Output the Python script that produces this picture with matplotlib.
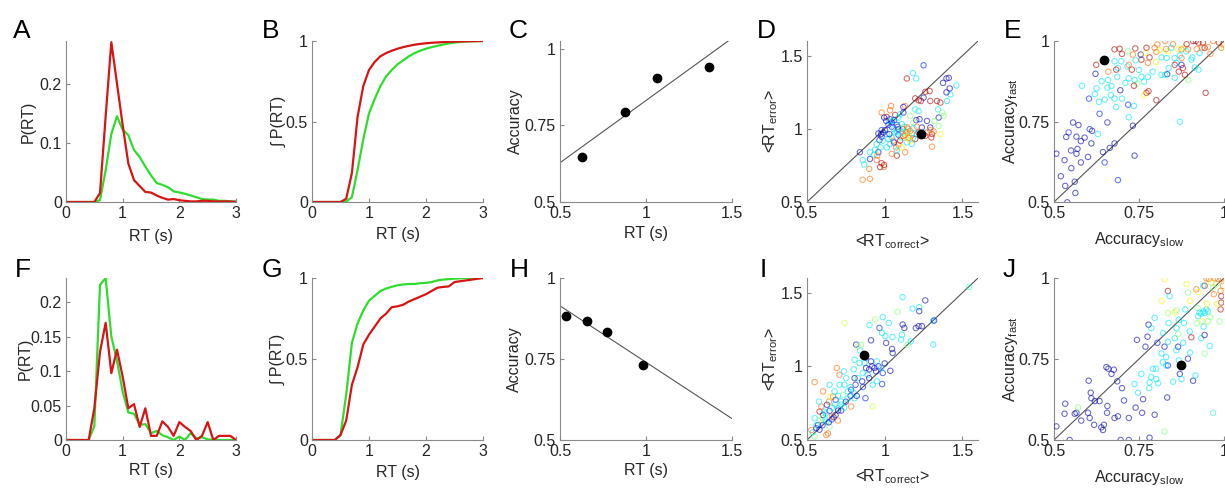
import numpy as np
import matplotlib
matplotlib.use('Agg')
import matplotlib.pyplot as plt

plt.rcParams['font.family'] = ['Liberation Sans', 'DejaVu Sans']
plt.rcParams['mathtext.fontset'] = 'custom'
plt.rcParams['mathtext.rm'] = 'Liberation Sans'

#%% data
rt_bins = [0.0, 0.1, 0.2, 0.3, 0.4, 0.5, 0.6, 0.7, 0.8, 0.9, 1.0, 1.1, 1.2, 1.3, 1.4, 1.5,
           1.6, 1.7, 1.8, 1.9, 2.0, 2.1, 2.2, 2.3, 2.4, 2.5, 2.6, 2.7, 2.8, 2.9, 3.0]

# A: RT distributions (top row)
pdf_top_red = [0, 0, 0, 0, 0, 0, 0.015, 0.145, 0.27, 0.20, 0.13, 0.065, 0.037, 0.027, 0.017, 0.016,
               0.011, 0.007, 0.004, 0.005, 0.003, 0.002, 0.001, 0.001, 0.002, 0.002, 0.001, 0.001, 0.001, 0.001, 0.0]
pdf_top_green = [0, 0, 0, 0, 0, 0, 0.003, 0.054, 0.115, 0.145, 0.122, 0.113, 0.088, 0.076, 0.06, 0.045,
                 0.032, 0.029, 0.025, 0.018, 0.016, 0.014, 0.011, 0.008, 0.005, 0.004, 0.004, 0.002, 0.002, 0.001, 0.001]
# B: cumulative
cdf_top_red = [0, 0, 0, 0, 0, 0, 0.02, 0.18, 0.53, 0.72, 0.82, 0.87, 0.905, 0.925, 0.94, 0.952,
               0.962, 0.97, 0.977, 0.982, 0.986, 0.989, 0.991, 0.993, 0.995, 0.996, 0.997, 0.998, 0.999, 0.9995, 1.0]
cdf_top_green = [0, 0, 0, 0, 0, 0, 0.003, 0.03, 0.2, 0.39, 0.55, 0.64, 0.72, 0.78, 0.82, 0.855,
                 0.88, 0.905, 0.925, 0.94, 0.952, 0.962, 0.97, 0.978, 0.985, 0.99, 0.994, 0.997, 0.998, 0.999, 1.0]
# F: RT distributions (bottom row)
pdf_bot_green = [0, 0, 0, 0, 0, 0.02, 0.225, 0.235, 0.15, 0.115, 0.07, 0.04, 0.038, 0.022, 0.023, 0.01,
                 0.013, 0.007, 0.004, 0.0, 0.005, 0.0, 0.01, 0.002, 0.004, 0.001, 0, 0, 0, 0, 0]
pdf_bot_red = [0, 0, 0, 0, 0, 0.046, 0.128, 0.17, 0.097, 0.131, 0.092, 0.046, 0.052, 0.019, 0.046, 0.006,
               0.006, 0.027, 0.019, 0.006, 0.026, 0.019, 0.013, 0.0, 0.006, 0.026, 0.0, 0.006, 0.006, 0.006, 0.0]
# G: cumulative
cdf_bot_green = [0, 0, 0, 0, 0, 0.03, 0.28, 0.6, 0.72, 0.8, 0.86, 0.89, 0.92, 0.935, 0.946, 0.955,
                 0.96, 0.963, 0.963, 0.968, 0.97, 0.975, 0.985, 0.99, 0.993, 0.996, 0.998, 1.0, 1.0, 1.0, 1.0]
cdf_bot_red = [0, 0, 0, 0, 0, 0.03, 0.12, 0.34, 0.45, 0.59, 0.65, 0.70, 0.75, 0.78, 0.82, 0.825,
               0.835, 0.855, 0.87, 0.885, 0.9, 0.92, 0.94, 0.945, 0.948, 0.975, 0.98, 0.985, 0.99, 0.995, 1.0]

# C / H: accuracy vs RT
c_rt = [0.63, 0.88, 1.064, 1.364]
c_acc = [0.647, 0.794, 0.903, 0.939]
c_fit_x = [0.5, 1.5]
c_fit_y = [0.628, 1.034]
h_rt = [0.533, 0.656, 0.774, 0.984]
h_acc = [0.883, 0.868, 0.834, 0.731]
h_fit_x = [0.5, 1.5]
h_fit_y = [0.914, 0.566]

# D: <RT_error> vs <RT_correct>, top row
d_x = [0.84, 0.858, 0.868, 0.905, 0.90, 0.858, 0.905, 0.948, 0.959, 0.974, 0.931, 0.98, 0.996, 0.966, 0.976,
       0.98, 1.009, 1.034, 1.045, 1.013, 1.024, 1.056, 1.073, 1.088, 1.078, 1.045, 1.131, 1.116, 1.138, 1.149,
       1.164, 1.175, 1.157, 1.181, 1.142, 1.175, 1.196, 1.207, 1.239, 1.272, 1.293, 1.304, 1.30, 1.304, 1.315,
       1.343, 1.369, 1.336, 1.358, 1.347, 1.379, 1.401, 1.422, 1.461, 1.418, 1.397, 1.375, 1.397, 1.412, 1.25,
       1.142, 1.203, 1.181, 1.196, 1.218, 1.233, 1.25, 1.261, 1.289, 1.293, 1.131, 1.12, 1.041, 1.034, 1.067,
       1.088, 1.099, 1.164, 1.196, 1.218, 1.224, 1.203, 1.185, 1.045, 1.078, 1.084, 1.11, 1.06, 1.078, 1.088,
       1.103, 1.131, 1.138, 1.045, 1.06, 1.03, 1.002, 0.991, 0.987, 0.948, 0.938, 0.905, 0.952, 0.97, 0.996,
       0.98, 1.013, 1.12, 1.207, 1.239, 1.272, 1.293, 1.319, 1.358, 1.347, 1.145, 1.03, 1.06, 1.10, 1.15,
       0.996, 1.024, 1.056, 1.069, 1.088, 1.11, 1.12, 1.153, 1.164, 1.125, 1.099, 1.185, 1.218, 1.261, 1.013,
       1.034, 1.078, 1.11, 0.98, 0.959]
d_y = [0.84, 0.787, 0.756, 0.794, 0.726, 0.652, 0.658, 0.787, 0.84, 0.873, 0.824, 0.765, 0.74, 0.923, 0.964,
       0.991, 1.054, 1.066, 1.014, 0.964, 0.93, 0.919, 0.873, 0.891, 0.817, 0.828, 0.84, 0.998, 0.98, 0.975,
       0.986, 0.968, 0.952, 0.937, 0.907, 0.896, 0.93, 0.964, 1.009, 1.054, 1.009, 0.964, 0.941, 0.878, 0.982,
       1.133, 1.111, 1.19, 1.179, 1.077, 1.088, 1.19, 1.235, 1.296, 1.276, 1.249, 1.314, 1.344, 1.348, 1.434,
       1.344, 1.344, 1.382, 1.208, 1.195, 1.19, 1.213, 1.253, 1.258, 1.19, 1.156, 1.111, 1.156, 1.127, 1.095,
       1.077, 1.10, 1.088, 1.133, 1.122, 1.066, 1.059, 1.043, 1.043, 1.027, 1.014, 1.032, 0.998, 0.982, 0.959,
       0.941, 0.957, 0.941, 0.941, 0.907, 0.964, 0.991, 0.975, 0.919, 0.896, 0.857, 0.84, 0.817, 0.738, 0.753,
       1.111, 1.081, 1.149, 1.014, 0.964, 0.975, 0.991, 1.054, 0.964, 1.02, 1.011, 1.05, 1.06, 1.0, 1.0,
       1.077, 1.027, 1.054, 0.975, 0.998, 0.975, 0.952, 0.937, 0.919, 1.014, 0.919, 1.005, 0.975, 0.952, 0.873,
       0.896, 0.851, 0.873, 0.946, 0.968]
d_c = [0.05, 0.35, 0.35, 0.05, 0.8, 0.8, 0.8, 0.8, 0.05, 0.35, 0.35, 0.95, 0.8, 0.05, 0.05,
       0.15, 0.05, 0.15, 0.15, 0.35, 0.35, 0.8, 0.8, 0.8, 0.95, 0.8, 0.8, 0.95, 0.35, 0.65,
       0.8, 0.8, 0.5, 0.35, 0.35, 0.35, 0.95, 0.35, 0.05, 0.05, 0.05, 0.95, 0.95, 0.8, 0.8,
       0.35, 0.5, 0.95, 0.95, 0.05, 0.5, 0.35, 0.35, 0.35, 0.05, 0.05, 0.05, 0.05, 0.05, 0.15,
       0.95, 0.35, 0.35, 0.95, 0.95, 0.95, 0.05, 0.95, 0.95, 0.95, 0.8, 0.05, 0.8, 0.8, 0.95,
       0.35, 0.35, 0.5, 0.35, 0.35, 0.05, 0.05, 0.5, 0.05, 0.15, 0.05, 0.35, 0.35, 0.35, 0.15,
       0.35, 0.8, 0.65, 0.35, 0.05, 0.05, 0.05, 0.05, 0.35, 0.35, 0.35, 0.35, 0.8, 0.95, 0.95,
       0.8, 0.95, 0.05, 0.8, 0.8, 0.8, 0.8, 0.5, 0.65, 0.5, 0.8, 0.35, 0.15, 0.65, 0.8,
       0.05, 0.15, 0.35, 0.35, 0.15, 0.35, 0.8, 0.8, 0.65, 0.35, 0.95, 0.35, 0.95, 0.95, 0.35,
       0.35, 0.35, 0.65, 0.15, 0.05]
d_mark = [1.233, 0.968]

# E: accuracy fast vs slow, top row
e_x = [0.507, 0.531, 0.533, 0.539, 0.561, 0.563, 0.551, 0.566, 0.569, 0.579, 0.543, 0.556, 0.572, 0.536, 0.566,
       0.579, 0.605, 0.612, 0.61, 0.629, 0.582, 0.603, 0.622, 0.625, 0.632, 0.634, 0.649, 0.657, 0.659, 0.669,
       0.667, 0.678, 0.683, 0.695, 0.70, 0.718, 0.72, 0.735, 0.657, 0.644, 0.649, 0.664, 0.678, 0.688, 0.732,
       0.737, 0.678, 0.698, 0.688, 0.686, 0.716, 0.72, 0.737, 0.745, 0.757, 0.765, 0.776, 0.772, 0.778, 0.765,
       0.735, 0.729, 0.72, 0.683, 0.678, 0.693, 0.718, 0.739, 0.732, 0.757, 0.755, 0.769, 0.772, 0.796, 0.804,
       0.801, 0.781, 0.776, 0.811, 0.816, 0.827, 0.835, 0.831, 0.845, 0.855, 0.865, 0.875, 0.882, 0.889, 0.894,
       0.904, 0.909, 0.917, 0.925, 0.938, 0.943, 0.953, 0.968, 0.992, 0.997, 0.935, 0.928, 0.875, 0.86, 0.855,
       0.833, 0.827, 0.837, 0.816, 0.855, 0.867, 0.879, 0.885, 0.895, 0.914, 0.925, 0.907, 0.875, 0.946, 0.801,
       0.87, 0.624, 0.62, 0.64, 0.66, 0.70, 0.71, 0.75, 0.79, 0.80, 0.83, 0.85, 0.87, 0.89, 0.92,
       0.96, 0.985, 0.60, 0.59, 0.55, 0.52, 0.74]
e_y = [0.65, 0.63, 0.55, 0.499, 0.563, 0.528, 0.605, 0.65, 0.665, 0.623, 0.716, 0.747, 0.739, 0.702, 0.703,
       0.689, 0.726, 0.721, 0.682, 0.711, 0.861, 0.821, 0.898, 0.853, 0.811, 0.774, 0.818, 0.855, 0.879, 0.86,
       0.832, 0.821, 0.795, 0.847, 0.821, 0.802, 0.763, 0.798, 0.747, 0.655, 0.623, 0.668, 0.682, 0.568, 0.737,
       0.644, 0.937, 0.937, 0.916, 0.889, 0.921, 0.884, 0.879, 0.868, 0.889, 0.874, 0.889, 0.839, 0.844, 0.832,
       0.861, 0.911, 0.926, 0.911, 0.974, 0.976, 0.968, 0.977, 0.958, 0.942, 0.958, 0.963, 0.979, 0.979, 0.989,
       0.966, 0.949, 0.932, 0.971, 0.949, 1.0, 0.968, 0.947, 0.979, 0.947, 0.974, 0.974, 0.979, 0.968, 0.974,
       0.942, 1.0, 1.0, 0.995, 0.995, 0.979, 0.981, 1.0, 0.979, 0.989, 0.979, 0.963, 0.947, 0.932, 0.926,
       0.897, 0.895, 0.916, 0.895, 0.886, 0.905, 0.916, 0.895, 0.879, 0.918, 0.911, 0.949, 0.926, 0.839, 0.816,
       0.749, 0.926, 0.835, 0.875, 0.905, 0.96, 0.87, 0.91, 0.905, 0.935, 0.975, 0.99, 0.955, 0.99, 0.975,
       0.96, 0.995, 0.64, 0.70, 0.66, 0.58, 0.94]
e_c = [0.05, 0.05, 0.05, 0.05, 0.05, 0.05, 0.05, 0.05, 0.05, 0.05, 0.15, 0.05, 0.05, 0.05, 0.05,
       0.05, 0.15, 0.05, 0.05, 0.35, 0.35, 0.15, 0.05, 0.35, 0.35, 0.15, 0.35, 0.35, 0.35, 0.35,
       0.35, 0.35, 0.35, 0.05, 0.35, 0.15, 0.35, 0.35, 0.05, 0.05, 0.15, 0.05, 0.05, 0.15, 0.05,
       0.05, 0.35, 0.35, 0.35, 0.35, 0.35, 0.35, 0.35, 0.5, 0.35, 0.35, 0.35, 0.95, 0.95, 0.65,
       0.95, 0.95, 0.8, 0.95, 0.95, 0.95, 0.5, 0.95, 0.8, 0.95, 0.05, 0.65, 0.95, 0.8, 0.8,
       0.8, 0.95, 0.8, 0.65, 0.35, 0.8, 0.65, 0.35, 0.35, 0.35, 0.65, 0.8, 0.65, 0.35, 0.8,
       0.35, 0.95, 0.95, 0.95, 0.95, 0.95, 0.8, 0.8, 0.8, 0.8, 0.8, 0.35, 0.8, 0.35, 0.95,
       0.05, 0.35, 0.35, 0.35, 0.35, 0.95, 0.95, 0.95, 0.5, 0.35, 0.35, 0.35, 0.05, 0.95, 0.95,
       0.35, 0.95, 0.35, 0.35, 0.8, 0.95, 0.35, 0.35, 0.35, 0.65, 0.8, 0.8, 0.35, 0.95, 0.8,
       0.8, 0.95, 0.05, 0.05, 0.05, 0.05, 0.35]
e_mark = [0.647, 0.94]

# I: <RT_error> vs <RT_correct>, bottom row
i_x = [0.538, 0.549, 0.528, 0.549, 0.571, 0.585, 0.603, 0.581, 0.592, 0.577, 0.549, 0.635, 0.624, 0.613, 0.628,
       0.645, 0.641, 0.667, 0.65, 0.645, 0.684, 0.684, 0.699, 0.671, 0.699, 0.72, 0.692, 0.709, 0.737, 0.752,
       0.741, 0.763, 0.731, 0.784, 0.784, 0.806, 0.812, 0.827, 0.838, 0.806, 0.741, 0.816, 0.827, 0.848, 0.842,
       0.87, 0.88, 0.859, 0.855, 0.876, 0.891, 0.912, 0.919, 0.934, 0.944, 0.949, 0.923, 0.912, 0.902, 0.938,
       0.966, 0.987, 0.983, 1.004, 1.026, 1.009, 1.047, 1.051, 1.036, 0.983, 0.987, 0.977, 1.083, 1.115, 1.115,
       1.126, 1.111, 1.105, 1.179, 1.222, 1.222, 1.261, 1.218, 1.239, 1.147, 1.168, 1.312, 1.318, 1.312, 1.543,
       0.806, 0.624, 0.645, 0.923, 0.709, 0.677, 0.603, 0.56, 0.60, 0.66, 0.70, 0.75, 0.78, 0.90, 0.95,
       0.62, 0.66, 0.72, 0.76, 0.80, 0.56, 0.58, 0.60, 0.62, 0.64, 0.66, 0.68, 0.70, 0.72, 0.74,
       0.78, 0.82, 0.86, 0.90, 0.96, 1.0, 1.05, 1.2, 0.80, 0.88]
i_y = [0.552, 0.523, 0.568, 0.648, 0.602, 0.636, 0.67, 0.693, 0.727, 0.761, 0.893, 0.545, 0.625, 0.693, 0.739,
       0.698, 0.761, 0.795, 0.795, 0.875, 0.773, 0.67, 0.632, 0.655, 0.716, 0.761, 0.989, 0.943, 0.966, 0.92,
       0.875, 0.83, 0.807, 0.841, 0.727, 0.784, 0.875, 0.92, 1.023, 1.045, 1.295, 1.148, 1.136, 1.148, 1.107,
       1.023, 0.989, 0.955, 0.898, 0.784, 0.943, 1.034, 1.0, 0.989, 0.966, 1.034, 0.875, 1.177, 1.28, 1.318,
       1.261, 1.334, 1.227, 1.205, 1.295, 1.159, 1.118, 1.091, 0.97, 0.88, 0.955, 0.989, 1.37, 1.47, 1.284,
       1.261, 1.216, 1.182, 1.393, 1.402, 1.375, 1.448, 1.273, 1.273, 1.148, 1.17, 1.311, 1.311, 1.148, 1.539,
       0.92, 0.534, 0.591, 0.727, 0.875, 0.83, 0.83, 0.58, 0.60, 0.64, 0.70, 0.76, 0.80, 0.92, 0.90,
       0.64, 0.72, 0.74, 0.78, 0.82, 0.60, 0.57, 0.65, 0.68, 0.62, 0.66, 0.74, 0.80, 0.70, 0.72,
       0.86, 0.80, 0.86, 0.98, 1.00, 1.02, 1.20, 1.26, 0.98, 1.06]
i_c = [0.35, 0.5, 0.8, 0.35, 0.05, 0.5, 0.05, 0.95, 0.8, 0.35, 0.8, 0.8, 0.35, 0.35, 0.05,
       0.05, 0.8, 0.8, 0.65, 0.35, 0.15, 0.05, 0.8, 0.05, 0.35, 0.35, 0.8, 0.8, 0.35, 0.35,
       0.35, 0.35, 0.5, 0.15, 0.8, 0.35, 0.05, 0.35, 0.35, 0.35, 0.6, 0.05, 0.55, 0.5, 0.35,
       0.35, 0.05, 0.35, 0.05, 0.15, 0.35, 0.05, 0.05, 0.05, 0.05, 0.35, 0.35, 0.05, 0.35, 0.55,
       0.15, 0.35, 0.35, 0.35, 0.35, 0.05, 0.05, 0.05, 0.05, 0.15, 0.15, 0.35, 0.5, 0.35, 0.05,
       0.05, 0.35, 0.35, 0.35, 0.35, 0.05, 0.05, 0.05, 0.05, 0.5, 0.35, 0.35, 0.05, 0.35, 0.4,
       0.05, 0.8, 0.5, 0.6, 0.35, 0.35, 0.8, 0.15, 0.15, 0.15, 0.05, 0.05, 0.15, 0.05, 0.35,
       0.35, 0.35, 0.35, 0.35, 0.35, 0.35, 0.05, 0.5, 0.35, 0.05, 0.8, 0.35, 0.35, 0.05, 0.35,
       0.35, 0.05, 0.15, 0.05, 0.15, 0.05, 0.35, 0.05, 0.35, 0.05]
i_mark = [0.865, 1.08]

# J: accuracy fast vs slow, bottom row
j_x = [0.507, 0.531, 0.533, 0.546, 0.561, 0.566, 0.571, 0.60, 0.605, 0.602, 0.608, 0.61, 0.618, 0.634, 0.639,
       0.647, 0.644, 0.656, 0.654, 0.657, 0.669, 0.676, 0.678, 0.688, 0.686, 0.696, 0.706, 0.72, 0.72, 0.737,
       0.744, 0.747, 0.757, 0.762, 0.759, 0.769, 0.775, 0.778, 0.781, 0.781, 0.786, 0.791, 0.796, 0.801, 0.806,
       0.804, 0.796, 0.816, 0.821, 0.825, 0.825, 0.833, 0.83, 0.835, 0.83, 0.835, 0.837, 0.835, 0.835, 0.825,
       0.84, 0.816, 0.855, 0.86, 0.855, 0.865, 0.867, 0.865, 0.86, 0.867, 0.87, 0.875, 0.879, 0.882, 0.886,
       0.89, 0.894, 0.894, 0.899, 0.904, 0.909, 0.916, 0.919, 0.924, 0.922, 0.924, 0.928, 0.933, 0.939, 0.943,
       0.948, 0.953, 0.936, 0.933, 0.943, 0.948, 0.955, 0.943, 0.939, 0.963, 0.973, 0.977, 0.968, 0.982, 0.992,
       0.992, 0.992, 0.99, 0.997, 0.953, 0.958, 0.943, 0.968, 0.987, 0.786, 0.86, 0.90, 0.92, 0.95, 0.97,
       0.98, 0.99, 0.96, 0.94, 0.88, 0.82, 0.78, 0.74, 0.70, 0.62, 0.58, 0.66, 0.90, 0.85, 0.80]
j_y = [0.542, 0.581, 0.612, 0.5, 0.581, 0.584, 0.6, 0.584, 0.568, 0.683, 0.646, 0.629, 0.547, 0.62, 0.539,
       0.547, 0.531, 0.584, 0.725, 0.605, 0.704, 0.717, 0.568, 0.573, 0.681, 0.5, 0.622, 0.568, 0.5, 0.673,
       0.809, 0.646, 0.704, 0.626, 0.584, 0.788, 0.819, 0.856, 0.507, 0.678, 0.694, 0.72, 0.578, 0.688, 0.675,
       0.8, 0.877, 0.767, 0.83, 0.788, 0.526, 0.631, 0.73, 0.73, 0.756, 0.803, 0.861, 0.892, 0.96, 0.997,
       0.944, 0.929, 0.894, 0.845, 0.814, 0.827, 0.871, 0.788, 0.777, 0.746, 0.704, 0.688, 0.73, 0.861, 0.903,
       0.981, 0.955, 0.751, 0.835, 0.817, 0.683, 0.699, 0.965, 0.882, 0.908, 0.957, 0.893, 0.89, 0.897, 0.892,
       0.903, 0.897, 0.866, 0.814, 0.824, 0.999, 0.997, 0.976, 0.976, 0.986, 0.999, 0.981, 0.971, 0.997, 0.997,
       0.944, 0.924, 0.903, 0.976, 0.866, 0.79, 0.767, 0.584, 0.866, 0.845, 0.90, 0.93, 0.86, 0.92, 0.95,
       0.92, 0.96, 0.88, 0.85, 0.80, 0.74, 0.66, 0.60, 0.66, 0.62, 0.56, 0.72, 0.77, 0.68, 0.72]
j_c = [0.05, 0.05, 0.05, 0.05, 0.05, 0.05, 0.5, 0.05, 0.05, 0.05, 0.05, 0.05, 0.05, 0.05, 0.05,
       0.05, 0.05, 0.05, 0.05, 0.05, 0.05, 0.05, 0.05, 0.05, 0.05, 0.05, 0.05, 0.05, 0.05, 0.35,
       0.05, 0.35, 0.35, 0.05, 0.05, 0.05, 0.05, 0.05, 0.05, 0.35, 0.35, 0.35, 0.05, 0.35, 0.35,
       0.15, 0.35, 0.35, 0.35, 0.05, 0.5, 0.05, 0.35, 0.15, 0.35, 0.35, 0.35, 0.55, 0.95, 0.65,
       0.35, 0.65, 0.65, 0.35, 0.35, 0.5, 0.35, 0.05, 0.35, 0.35, 0.05, 0.35, 0.8, 0.35, 0.35,
       0.65, 0.5, 0.05, 0.35, 0.95, 0.05, 0.35, 0.8, 0.35, 0.5, 0.65, 0.35, 0.35, 0.35, 0.35,
       0.35, 0.35, 0.65, 0.35, 0.05, 0.8, 0.8, 0.95, 0.35, 0.65, 0.8, 0.55, 0.5, 0.8, 0.8,
       0.95, 0.95, 0.95, 0.8, 0.5, 0.35, 0.5, 0.4, 0.5, 0.35, 0.5, 0.65, 0.5, 0.65, 0.8,
       0.65, 0.8, 0.5, 0.35, 0.35, 0.35, 0.35, 0.05, 0.05, 0.05, 0.05, 0.05, 0.35, 0.35, 0.35]
j_mark = [0.873, 0.73]

diag_rt = [0.5, 1.6]
diag_acc = [0.5, 1.0]

#%% figure
W, H = 1225, 491
fig = plt.figure(figsize=(W / 100, H / 100), dpi=100)

col_left = [66, 312, 560, 807, 1054]
col_width = [170, 171, 172, 171, 170]
row_top = [41, 278]
row_bottom = [202, 440]

GREEN = '#2fdc2f'
RED = '#d61515'
AXC = '#8a8a8a'
TXT = '#262626'
FS = 11.5


def make_ax(row, col):
    l = col_left[col] / W
    b = 1 - row_bottom[row] / H
    w = col_width[col] / W
    h = (row_bottom[row] - row_top[row]) / H
    ax = fig.add_axes([l, b, w, h])
    ax.spines['top'].set_visible(False)
    ax.spines['right'].set_visible(False)
    for s in ['left', 'bottom']:
        ax.spines[s].set_color(AXC)
        ax.spines[s].set_linewidth(0.8)
    ax.tick_params(direction='in', length=3, width=0.8, color=AXC,
                   labelcolor=TXT, labelsize=FS, pad=3)
    return ax


def labels(ax, xl, yl, xoff, yoff):
    ax.set_xlabel(xl, fontsize=FS, color=TXT)
    ax.set_ylabel(yl, fontsize=FS, color=TXT)
    ax.xaxis.set_label_coords(0.5, xoff)
    ax.yaxis.set_label_coords(yoff, 0.5)


def rt_axis(ax):
    ax.set_xlim(0, 3)
    ax.set_xticks([0, 1, 2, 3])
    ax.set_xticklabels(['0', '1', '2', '3'])


jet = plt.get_cmap('jet')


def scatter(ax, x, y, c, mark):
    ax.scatter(x, y, s=15, facecolors='none', edgecolors=jet(np.array(c)),
               linewidths=0.75, alpha=0.6, zorder=3)
    ax.plot(mark[0], mark[1], 'o', color='k', ms=6, zorder=4)


# A
ax = make_ax(0, 0)
ax.plot(rt_bins, pdf_top_green, color=GREEN, lw=1.6)
ax.plot(rt_bins, pdf_top_red, color=RED, lw=1.6)
rt_axis(ax)
ax.set_ylim(0, 0.272)
ax.set_yticks([0, 0.1, 0.2])
ax.set_yticklabels(['0', '0.1', '0.2'])
labels(ax, 'RT (s)', 'P(RT)', -0.165, -0.18)

# B
ax = make_ax(0, 1)
ax.plot(rt_bins, cdf_top_green, color=GREEN, lw=1.6)
ax.plot(rt_bins, cdf_top_red, color=RED, lw=1.6)
rt_axis(ax)
ax.set_ylim(0, 1)
ax.set_yticks([0, 0.5, 1])
ax.set_yticklabels(['0', '0.5', '1'])
labels(ax, 'RT (s)', '\u222b P(RT)', -0.155, -0.145)

# C
ax = make_ax(0, 2)
ax.plot(c_fit_x, c_fit_y, color='#555555', lw=0.8)
ax.plot(c_rt, c_acc, 'o', color='k', ms=6)
ax.set_xlim(0.5, 1.5)
ax.set_ylim(0.5, 1.025)
ax.set_xticks([0.5, 1, 1.5])
ax.set_xticklabels(['0.5', '1', '1.5'])
ax.set_yticks([0.5, 0.75, 1])
ax.set_yticklabels(['0.5', '0.75', '1'])
labels(ax, 'RT (s)', 'Accuracy', -0.15, -0.215)

# D
ax = make_ax(0, 3)
ax.plot(diag_rt, diag_rt, color='#555555', lw=0.8, zorder=2)
scatter(ax, d_x, d_y, d_c, d_mark)
ax.set_xlim(0.5, 1.6)
ax.set_ylim(0.5, 1.6)
ax.set_xticks([0.5, 1, 1.5])
ax.set_xticklabels(['0.5', '1', '1.5'])
ax.set_yticks([0.5, 1, 1.5])
ax.set_yticklabels(['0.5', '1', '1.5'])
labels(ax, r'<RT$_{\mathregular{correct}}$>', r'<RT$_{\mathregular{error}}$>', -0.19, -0.16)

# E
ax = make_ax(0, 4)
ax.plot(diag_acc, diag_acc, color='#555555', lw=0.8, zorder=2)
scatter(ax, e_x, e_y, e_c, e_mark)
ax.set_xlim(0.5, 1.0)
ax.set_ylim(0.5, 1.0)
ax.set_xticks([0.5, 0.75, 1])
ax.set_xticklabels(['0.5', '0.75', '1'])
ax.set_yticks([0.5, 0.75, 1])
ax.set_yticklabels(['0.5', '0.75', '1'])
labels(ax, r'Accuracy$_{\mathregular{slow}}$', r'Accuracy$_{\mathregular{fast}}$', -0.175, -0.2)

# F
ax = make_ax(1, 0)
ax.plot(rt_bins, pdf_bot_green, color=GREEN, lw=1.6)
ax.plot(rt_bins, pdf_bot_red, color=RED, lw=1.6)
rt_axis(ax)
ax.set_ylim(0, 0.235)
ax.set_yticks([0, 0.05, 0.1, 0.15, 0.2])
ax.set_yticklabels(['0', '0.05', '0.1', '0.15', '0.2'])
labels(ax, 'RT (s)', 'P(RT)', -0.14, -0.195)

# G
ax = make_ax(1, 1)
ax.plot(rt_bins, cdf_bot_green, color=GREEN, lw=1.6)
ax.plot(rt_bins, cdf_bot_red, color=RED, lw=1.6)
rt_axis(ax)
ax.set_ylim(0, 1)
ax.set_yticks([0, 0.5, 1])
ax.set_yticklabels(['0', '0.5', '1'])
labels(ax, 'RT (s)', '\u222b P(RT)', -0.155, -0.155)

# H
ax = make_ax(1, 2)
ax.plot(h_fit_x, h_fit_y, color='#555555', lw=0.8)
ax.plot(h_rt, h_acc, 'o', color='k', ms=6)
ax.set_xlim(0.5, 1.5)
ax.set_ylim(0.5, 1.0)
ax.set_xticks([0.5, 1, 1.5])
ax.set_xticklabels(['0.5', '1', '1.5'])
ax.set_yticks([0.5, 0.75, 1])
ax.set_yticklabels(['0.5', '0.75', '1'])
labels(ax, 'RT (s)', 'Accuracy', -0.14, -0.22)

# I
ax = make_ax(1, 3)
ax.plot(diag_rt, diag_rt, color='#555555', lw=0.8, zorder=2)
scatter(ax, i_x, i_y, i_c, i_mark)
ax.set_xlim(0.5, 1.6)
ax.set_ylim(0.5, 1.6)
ax.set_xticks([0.5, 1, 1.5])
ax.set_xticklabels(['0.5', '1', '1.5'])
ax.set_yticks([0.5, 1, 1.5])
ax.set_yticklabels(['0.5', '1', '1.5'])
labels(ax, r'<RT$_{\mathregular{correct}}$>', r'<RT$_{\mathregular{error}}$>', -0.17, -0.16)

# J
ax = make_ax(1, 4)
ax.plot(diag_acc, diag_acc, color='#555555', lw=0.8, zorder=2)
scatter(ax, j_x, j_y, j_c, j_mark)
ax.set_xlim(0.5, 1.0)
ax.set_ylim(0.5, 1.0)
ax.set_xticks([0.5, 0.75, 1])
ax.set_xticklabels(['0.5', '0.75', '1'])
ax.set_yticks([0.5, 0.75, 1])
ax.set_yticklabels(['0.5', '0.75', '1'])
labels(ax, r'Accuracy$_{\mathregular{slow}}$', r'Accuracy$_{\mathregular{fast}}$', -0.17, -0.2)

# panel letters
letters = ['A', 'B', 'C', 'D', 'E', 'F', 'G', 'H', 'I', 'J']
letter_x = [13, 262, 509, 757, 1004, 15, 262, 510, 760, 1003]
letter_y = [38, 38, 38, 38, 38, 277, 277, 277, 277, 277]
for t, lx, ly in zip(letters, letter_x, letter_y):
    fig.text(lx / W, 1 - ly / H, t, fontsize=19, color='k', va='baseline', ha='left')

fig.savefig('out.png', dpi=100)
